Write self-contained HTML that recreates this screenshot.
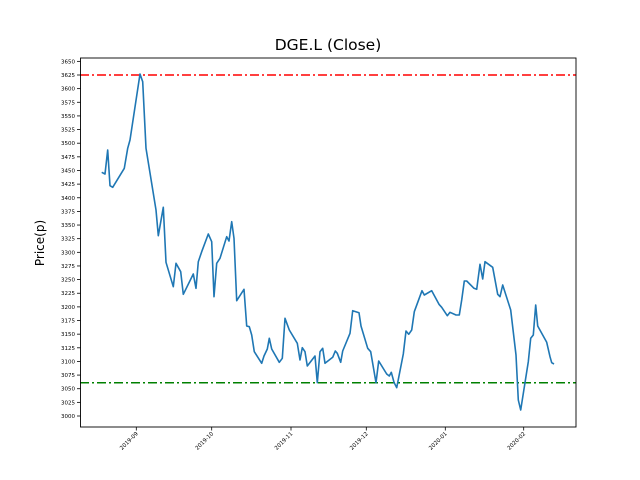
<!DOCTYPE html>
<html><head><meta charset="utf-8"><style>body{margin:0;background:#fff}svg{display:block}text{font-family:"DejaVu Sans","Liberation Sans",sans-serif}</style></head><body>
<svg width="640" height="480" viewBox="0 0 640 480" xmlns="http://www.w3.org/2000/svg">
<rect width="640" height="480" fill="#fff"/>
<text x="328" y="50" font-size="15.5" text-anchor="middle">DGE.L (Close)</text>
<text transform="translate(44,243) rotate(-90)" font-size="12" text-anchor="middle">Price(p)</text>
<g font-size="5.5" text-anchor="end" fill="#000" id="yt"></g>
<g stroke="#000" stroke-width="0.8" id="ytk"></g>
<g id="xt"></g>
<line x1="80" y1="75" x2="576" y2="75" stroke="#f00" stroke-width="1.5" stroke-dasharray="9,3,2,3"/>
<line x1="80" y1="382.7" x2="576" y2="382.7" stroke="#008000" stroke-width="1.5" stroke-dasharray="9,3,2,3"/>
<polyline fill="none" stroke="#1f77b4" stroke-width="1.6" stroke-linejoin="round" points="101.7,172.3 105,174 107.7,150 110,185.7 112.7,187.3 124.3,168.3 127.7,148.3 130,140 140,74 142.7,81.7 146,148.3 156,210 158.3,235.7 163.3,207.3 166,262.3 173.3,286.7 176,263.3 180.7,271.7 183.3,294.3 193.3,274 196,288.3 198.3,261.7 201.7,251.7 208.3,234 211.7,241.7 214,296.7 216.7,263.3 220,258.3 226.7,236.7 229,241 231.7,221.7 234,238.3 236.7,300.7 244,289.3 246.7,326 249.3,326.7 251.7,335 254.3,351.7 261.7,363.3 264,356 267.3,349 269.3,338.3 271.7,349 279.3,362.3 282.3,358.3 285,318.3 289.3,330 297.3,343.3 300,360 302.3,347.7 305,351.7 307.3,366 315,356 317.3,382.7 320,351.7 322.7,348.3 325,363.3 332.7,357.3 335.3,351 337.3,353.3 340.7,362.3 342.7,351 350,333.3 352.7,310.7 359,312.7 361,326 367.7,348.3 370.7,351.7 376,382.7 378.7,361 386.7,374 389.3,376 391.3,372.3 394,382.3 396.7,387.7 403.3,354 406,331 408.7,334.3 411.7,330 414.3,311.7 422,290.7 424.3,295 431.7,290.7 439,304.3 441.7,307.3 447.3,315.7 450,312.3 456,315 459.3,315 461.7,300 464.3,281 466.7,281 474,288.3 476.7,289.3 480,264.3 482.7,279 485,261.7 492.7,267.3 497.7,294.3 500,296.7 502.7,285 510.7,310 516,355 518.3,400 520.7,410 528.3,361.7 530.7,338.3 533.3,335 535.7,305 537.7,326 546.7,342.3 550,356.7 551.7,362.7 554,364"/>
<rect x="80.5" y="58" width="495.5" height="369" fill="none" stroke="#000" stroke-width="0.9"/>
<script>
var ns="http://www.w3.org/2000/svg",yt=document.getElementById('yt'),ytk=document.getElementById('ytk'),xt=document.getElementById('xt');
for(var i=0;i<=26;i++){var v=3000+i*25,y=416-i*13.64;
var t=document.createElementNS(ns,'text');t.setAttribute('x',75);t.setAttribute('y',y+2);t.textContent=v;yt.appendChild(t);
var l=document.createElementNS(ns,'line');l.setAttribute('x1',77);l.setAttribute('x2',80.5);l.setAttribute('y1',y);l.setAttribute('y2',y);ytk.appendChild(l);}
var xs=[[136.3,'2019-09'],[211.7,'2019-10'],[291,'2019-11'],[366.3,'2019-12'],[445.3,'2020-01'],[523.7,'2020-02']];
xs.forEach(function(a){var l=document.createElementNS(ns,'line');l.setAttribute('x1',a[0]);l.setAttribute('x2',a[0]);l.setAttribute('y1',427);l.setAttribute('y2',430.5);l.setAttribute('stroke','#000');l.setAttribute('stroke-width',0.8);xt.appendChild(l);
var t=document.createElementNS(ns,'text');t.setAttribute('font-size','5.5');t.setAttribute('text-anchor','end');t.setAttribute('transform','translate('+(a[0]+2)+',434) rotate(-45)');t.textContent=a[1];xt.appendChild(t);});
</script>
</svg>
</body></html>
